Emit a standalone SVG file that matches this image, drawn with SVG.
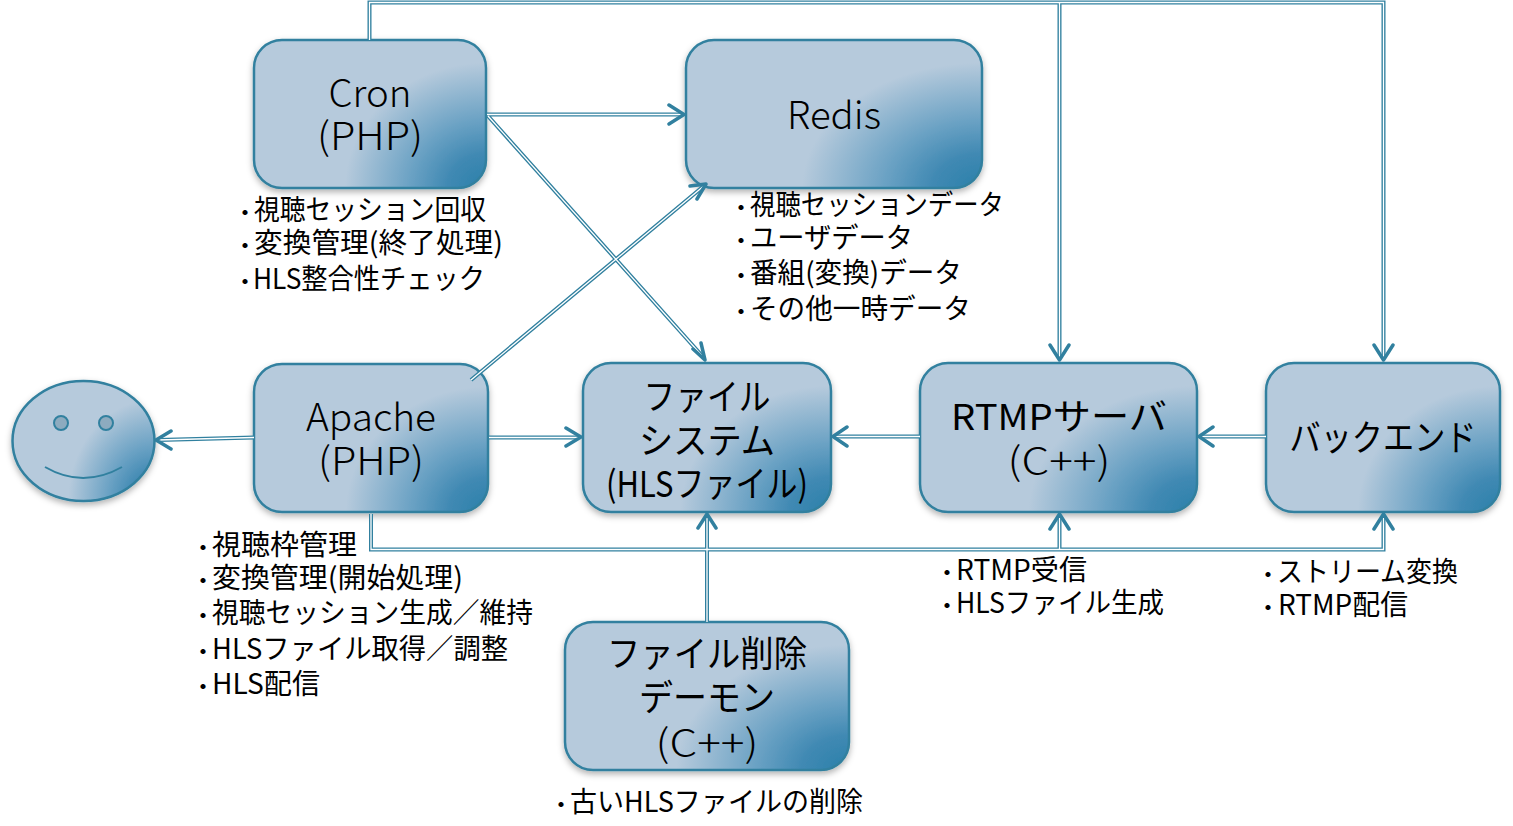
<svg xmlns="http://www.w3.org/2000/svg" width="1513" height="826" viewBox="0 0 1513 826">
<style>
text{font-family:"Noto Sans CJK JP","Noto Sans",sans-serif;fill:#000}
.m{font-size:38px;text-anchor:middle;font-weight:300}
.k{font-size:36px;text-anchor:middle;font-weight:400}
.j{font-weight:400}
.l{font-size:28px;font-weight:400}
.b{font-size:20px;font-weight:700}
.box{fill:url(#g);stroke:#31809f;stroke-width:2.5;filter:url(#s)}
.o{fill:none;stroke:#31809f;stroke-width:4}
.i{fill:none;stroke:#fff;stroke-width:1.3}
.a{fill:none;stroke:#31809f;stroke-width:3.5;stroke-linecap:round;stroke-linejoin:round}
</style>
<defs>
<radialGradient id="g" cx="1" cy="1" r="1" gradientTransform="translate(1 1) scale(.66 .92) translate(-1 -1)">
<stop offset="0" stop-color="#2a80aa"/><stop offset="0.25" stop-color="#4089b3"/><stop offset="0.5" stop-color="#6ba2c4"/><stop offset="0.92" stop-color="#b6cadc"/>
</radialGradient>
<filter id="s" x="-10%" y="-10%" width="120%" height="125%"><feDropShadow dx="0" dy="3" stdDeviation="3" flood-color="#000" flood-opacity="0.3"/></filter>
</defs>
<g id="cron"><rect class="box" x="254" y="40" width="232" height="148" rx="28"/><text class="m" x="370" y="107" textLength="83" lengthAdjust="spacingAndGlyphs">Cron</text><text class="m" x="370" y="150" textLength="106" lengthAdjust="spacingAndGlyphs">(PHP)</text></g>
<g id="redis"><rect class="box" x="686" y="40" width="296" height="148" rx="28"/><text class="m" x="834" y="129" textLength="94" lengthAdjust="spacingAndGlyphs">Redis</text></g>
<g id="apache"><rect class="box" x="254" y="364" width="234" height="148" rx="28"/><text class="m" x="371" y="431" textLength="130" lengthAdjust="spacingAndGlyphs">Apache</text><text class="m" x="371" y="475" textLength="106" lengthAdjust="spacingAndGlyphs">(PHP)</text></g>
<g id="fs"><rect class="box" x="583" y="363" width="248" height="149" rx="28"/><text class="k" x="707" y="410" textLength="127" lengthAdjust="spacingAndGlyphs">ファイル</text><text class="k" x="707" y="454" textLength="136" lengthAdjust="spacingAndGlyphs">システム</text><text class="k" x="707" y="497" textLength="202" lengthAdjust="spacingAndGlyphs">(HLSファイル)</text></g>
<g id="rtmp"><rect class="box" x="920" y="363" width="277" height="149" rx="28"/><text class="k" x="1059" y="430" textLength="216" lengthAdjust="spacingAndGlyphs">RTMPサーバ</text><text class="m" x="1059" y="475" textLength="103" lengthAdjust="spacingAndGlyphs">(C++)</text></g>
<g id="backend"><rect class="box" x="1266" y="363" width="234" height="149" rx="28"/><text class="k" x="1383" y="451" textLength="187" lengthAdjust="spacingAndGlyphs">バックエンド</text></g>
<g id="del"><rect class="box" x="565" y="622" width="284" height="148" rx="28"/><text class="k" x="707" y="667" textLength="200" lengthAdjust="spacingAndGlyphs">ファイル削除</text><text class="k" x="707" y="711" textLength="136" lengthAdjust="spacingAndGlyphs">デーモン</text><text class="m" x="707" y="757" textLength="103" lengthAdjust="spacingAndGlyphs">(C++)</text></g>
<g id="user"><ellipse cx="83.500" cy="441" rx="71" ry="60" fill="url(#g)" stroke="#31809f" stroke-width="2.500" filter="url(#s)"/><circle cx="61" cy="423" r="7" fill="#8dabbf" stroke="#31809f" stroke-width="2"/><circle cx="106" cy="423" r="7" fill="#8dabbf" stroke="#31809f" stroke-width="2"/><path d="M45 467Q83 489 122 467" fill="none" stroke="#31809f" stroke-width="2"/></g>
<g id="connectors">
<path class="o" d="M369.500 40V2.500H1383.500V358M1059.500 2.500V358M487 114.500H683M488 116L704 358M471 380L705 185M254 437.500L158 440M489 437.500H579M920 436.500H835M1266 436.500H1201M371 514V549.500H1059.500V516M1059.500 549.500H1383.500V516M707 622V516"/>
<path class="i" d="M369.500 40V2.500H1383.500V358M1059.500 2.500V358M487 114.500H683M488 116L704 358M471 380L705 185M254 437.500L158 440M489 437.500H579M920 436.500H835M1266 436.500H1201M371 514V549.500H1059.500V516M1059.500 549.500H1383.500V516M707 622V516"/>
<path class="a" d="M669 105L684 114.500L669 124M693 349L705 360L701 343M690 186L706 184L697 199M171 431L156 440L171 449M566 428L581 437L566 446M847 427L833 436.500L847 446M1213 427L1199 436.500L1213 446M1050 345L1059.500 360L1069 345M1374 345L1383.500 360L1393 345M1050 529L1059.500 514L1069 529M1374 529L1383.500 514L1393 529M698 528L707 514L716 528"/>
</g>
<g id="notes">
<text class="l" x="235" y="220"><tspan class="b">・</tspan><tspan x="254" textLength="232" lengthAdjust="spacingAndGlyphs">視聴セッション回収</tspan></text>
<text class="l" x="235" y="253"><tspan class="b">・</tspan><tspan x="254" textLength="249" lengthAdjust="spacingAndGlyphs">変換管理(終了処理)</tspan></text>
<text class="l" x="235" y="289"><tspan class="b">・</tspan><tspan x="253" textLength="232" lengthAdjust="spacingAndGlyphs">HLS整合性チェック</tspan></text>
<text class="l" x="731" y="215"><tspan class="b">・</tspan><tspan x="750" textLength="254" lengthAdjust="spacingAndGlyphs">視聴セッションデータ</tspan></text>
<text class="l" x="731" y="248"><tspan class="b">・</tspan><tspan x="750" textLength="163" lengthAdjust="spacingAndGlyphs">ユーザデータ</tspan></text>
<text class="l" x="731" y="283"><tspan class="b">・</tspan><tspan x="750" textLength="212" lengthAdjust="spacingAndGlyphs">番組(変換)データ</tspan></text>
<text class="l" x="731" y="319"><tspan class="b">・</tspan><tspan x="750" textLength="221" lengthAdjust="spacingAndGlyphs">その他一時データ</tspan></text>
<text class="l" x="193" y="555"><tspan class="b">・</tspan><tspan x="212" textLength="145" lengthAdjust="spacingAndGlyphs">視聴枠管理</tspan></text>
<text class="l" x="193" y="588"><tspan class="b">・</tspan><tspan x="212" textLength="251" lengthAdjust="spacingAndGlyphs">変換管理(開始処理)</tspan></text>
<text class="l" x="193" y="623"><tspan class="b">・</tspan><tspan x="212" textLength="321" lengthAdjust="spacingAndGlyphs">視聴セッション生成／維持</tspan></text>
<text class="l" x="193" y="659"><tspan class="b">・</tspan><tspan x="212" textLength="296" lengthAdjust="spacingAndGlyphs">HLSファイル取得／調整</tspan></text>
<text class="l" x="193" y="694"><tspan class="b">・</tspan><tspan x="212" textLength="108" lengthAdjust="spacingAndGlyphs">HLS配信</tspan></text>
<text class="l" x="937" y="580"><tspan class="b">・</tspan><tspan x="956" textLength="131" lengthAdjust="spacingAndGlyphs">RTMP受信</tspan></text>
<text class="l" x="937" y="613"><tspan class="b">・</tspan><tspan x="956" textLength="208" lengthAdjust="spacingAndGlyphs">HLSファイル生成</tspan></text>
<text class="l" x="1258" y="582"><tspan class="b">・</tspan><tspan x="1277" textLength="181" lengthAdjust="spacingAndGlyphs">ストリーム変換</tspan></text>
<text class="l" x="1258" y="615"><tspan class="b">・</tspan><tspan x="1278" textLength="130" lengthAdjust="spacingAndGlyphs">RTMP配信</tspan></text>
<text class="l" x="551" y="812"><tspan class="b">・</tspan><tspan x="570" textLength="293" lengthAdjust="spacingAndGlyphs">古いHLSファイルの削除</tspan></text>
</g>
</svg>
